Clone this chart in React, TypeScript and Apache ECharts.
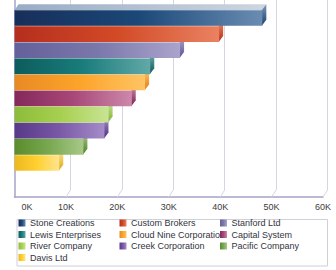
import React, { useEffect, useRef } from 'react';
import * as echarts from 'echarts';

const companies = [
  'Stone Creations',
  'Custom Brokers',
  'Stanford Ltd',
  'Lewis Enterprises',
  'Cloud Nine Corporation',
  'Capital System',
  'River Company',
  'Creek Corporation',
  'Pacific Company',
  'Davis Ltd',
];
const sales = [48200, 39800, 32200, 26400, 25400, 22800, 18300, 17500, 13400, 8700];
const tickValues = [0, 10000, 20000, 30000, 40000, 50000, 60000];
const tickLabels = ['0K', '10K', '20K', '30K', '40K', '50K', '60K'];

const legendColumns = [
  ['Stone Creations', 'Lewis Enterprises', 'River Company', 'Davis Ltd'],
  ['Custom Brokers', 'Cloud Nine Corporation', 'Creek Corporation'],
  ['Stanford Ltd', 'Capital System', 'Pacific Company'],
];

const barStops = [
  ['#182e5a', '#1b4878', '#6a8cb2'],
  ['#b52e1e', '#d24a26', '#ea8262'],
  ['#64609a', '#7a78aa', '#aaa4cc'],
  ['#0c5c5c', '#1a7c7c', '#62a8a8'],
  ['#e88a24', '#fca42a', '#ffc464'],
  ['#84285a', '#a84878', '#cc88aa'],
  ['#8cbc3a', '#a8d050', '#c8e494'],
  ['#583888', '#7a58a8', '#a48cc8'],
  ['#5a8c2c', '#78a850', '#a8c888'],
  ['#ecb81e', '#ffd030', '#ffe490'],
];
const sideStops = [
  ['#7c98b8', '#163e6c'],
  ['#ec8a6a', '#b82e10'],
  ['#b0a8d0', '#5a5090'],
  ['#70b0b0', '#0c5858'],
  ['#ffcc70', '#e07a10'],
  ['#d08cb0', '#7c1c50'],
  ['#cce898', '#80b030'],
  ['#a890cc', '#4c2c7c'],
  ['#acc890', '#4c8020'],
  ['#ffe898', '#e0a810'],
];
const topStops = [
  ['#98acc4', '#cdd6e0'],
  ['#f0a890', '#f8c8b8'],
  ['#c8c4e0', '#dcd8ec'],
  ['#98c8c8', '#c0e0e0'],
  ['#ffd890', '#ffe8c0'],
  ['#e0b0c8', '#f0d0e0'],
  ['#d8f0b0', '#e8f8d0'],
  ['#c8b8e0', '#e0d8f0'],
  ['#c8e0b0', '#e0f0d0'],
  ['#fff0b0', '#fff8d8'],
];

const DX = 4;
const DY = 6;
const FLOOR_DX = 4.5;
const FLOOR_DY = 7;
const axisColor = '#a4a4c8';
const gridColor = '#d6d6e2';
const FONT = '"Liberation Sans", Arial, sans-serif';

function lin(x2: number, y2: number, stops: string[]) {
  return new echarts.graphic.LinearGradient(
    0,
    0,
    x2,
    y2,
    stops.map((c, i) => ({ offset: i / (stops.length - 1), color: c }))
  );
}

export default function App() {
  const ref = useRef<HTMLDivElement>(null);
  useEffect(() => {
    if (!ref.current) return;
    const chart = echarts.init(ref.current, undefined, { renderer: 'svg' });

    const barSeries = companies.map((name, i) => ({
      type: 'bar',
      name,
      xAxisIndex: 2,
      yAxisIndex: 2,
      stack: 'all',
      barCategoryGap: '3%',
      z: 4,
      itemStyle: { color: lin(1, 0, barStops[i]) },
      data: companies.map((_, j) => (j === i ? sales[i] : '-')),
    }));

    const option: any = {
      animation: false,
      backgroundColor: '#ffffff',
      textStyle: { fontFamily: FONT },
      grid: [
        { left: 14.5, top: 0, width: 308.5, height: 197 },
        { left: 19, top: 0, width: 308.5, height: 190 },
        { left: 14.5, top: 10, width: 308.5, height: 161 },
      ],
      xAxis: [
        {
          type: 'value',
          gridIndex: 0,
          min: 0,
          max: 60000,
          interval: 10000,
          axisLine: { show: true, lineStyle: { color: axisColor, width: 1.5 } },
          axisTick: { show: false },
          splitLine: { show: false },
          axisLabel: {
            margin: 5,
            fontSize: 9,
            color: '#3c3c3c',
            fontFamily: FONT,
            alignMinLabel: 'left',
            formatter: (v: number) => {
              const k = tickValues.indexOf(v);
              const t = k >= 0 ? tickLabels[k] : '';
              return k === 0 ? '{z|' + t + '}' : t;
            },
            rich: { z: { padding: [0, 0, 0, 7], fontSize: 9, color: '#3c3c3c', fontFamily: FONT } },
          },
        },
        {
          type: 'value',
          gridIndex: 1,
          min: 0,
          max: 60000,
          interval: 10000,
          axisLine: { show: false },
          axisTick: { show: false },
          axisLabel: { show: false },
          splitLine: { show: true, showMinLine: false, lineStyle: { color: gridColor, width: 1 } },
        },
        {
          type: 'value',
          gridIndex: 2,
          min: 0,
          max: 60000,
          show: false,
        },
      ],
      yAxis: [
        {
          type: 'value',
          gridIndex: 0,
          min: 0,
          max: 1,
          axisLine: { show: true, lineStyle: { color: axisColor, width: 1.5 } },
          axisTick: { show: false },
          axisLabel: { show: false },
          splitLine: { show: false },
        },
        {
          type: 'value',
          gridIndex: 1,
          min: 0,
          max: 1,
          show: false,
        },
        {
          type: 'category',
          gridIndex: 2,
          data: companies,
          inverse: true,
          show: false,
        },
      ],
      legend: legendColumns.map((col, c) => ({
        orient: 'vertical',
        left: [18.5, 119.5, 220][c],
        top: 218.5,
        itemWidth: 7,
        itemHeight: 7,
        itemGap: 2.5,
        icon: 'rect',
        padding: 0,
        selectedMode: false,
        textStyle: { fontSize: 9, color: '#333340', fontFamily: FONT, padding: [0, 0, 0, -0.5] },
        data: col,
      })),
      graphic: [
        {
          type: 'rect',
          left: 14.5,
          top: 217,
          shape: { x: 0, y: 0, width: 310.5, height: 46.5 },
          style: { fill: 'none', stroke: '#d0d0d8', lineWidth: 1 },
          silent: true,
        },
      ],
      series: [
        {
          type: 'custom',
          xAxisIndex: 0,
          yAxisIndex: 0,
          z: 1,
          silent: true,
          data: tickValues.slice(1).map((v) => [v, 0]),
          renderItem: (_params: any, api: any) => {
            const p = api.coord([api.value(0), api.value(1)]);
            return {
              type: 'line',
              shape: { x1: p[0], y1: p[1], x2: p[0] + FLOOR_DX, y2: p[1] - FLOOR_DY },
              style: { stroke: gridColor, lineWidth: 1 },
            };
          },
        },
        {
          type: 'custom',
          xAxisIndex: 2,
          yAxisIndex: 2,
          z: 2,
          silent: true,
          data: sales.map((v, i) => [v, i]),
          renderItem: (params: any, api: any) => {
            const i = params.dataIndex;
            const idx = api.value(1);
            const s = api.coord([0, idx]);
            const e = api.coord([api.value(0), idx]);
            const h = api.size([0, 1])[1] * 0.97;
            const top = e[1] - h / 2;
            const bot = e[1] + h / 2;
            return {
              type: 'group',
              children: [
                {
                  type: 'polygon',
                  shape: {
                    points: [
                      [s[0], top],
                      [s[0] + DX, top - DY],
                      [e[0] + DX, top - DY],
                      [e[0], top],
                    ],
                  },
                  style: { fill: lin(1, 0, topStops[i]) },
                },
                {
                  type: 'polygon',
                  shape: {
                    points: [
                      [e[0] - 0.5, top],
                      [e[0] + DX, top - DY],
                      [e[0] + DX, bot - DY],
                      [e[0] - 0.5, bot],
                    ],
                  },
                  style: { fill: lin(0, 1, sideStops[i]) },
                },
              ],
            };
          },
        },
        ...barSeries,
      ],
    };
    chart.setOption(option);
    return () => chart.dispose();
  }, []);
  return (
    <div
      ref={ref}
      style={{ position: 'absolute', left: 0, top: 0, width: 336, height: 270 }}
    />
  );
}
